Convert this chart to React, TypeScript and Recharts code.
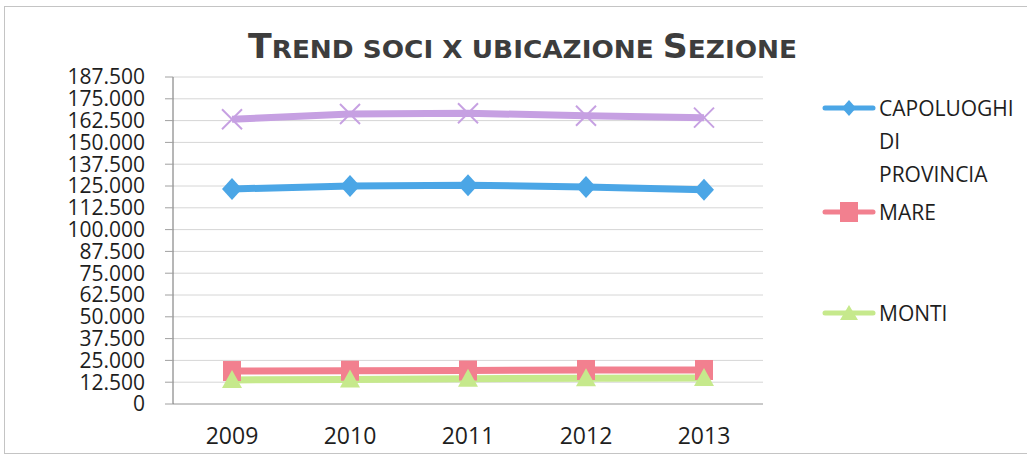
import React from 'react';
import { LineChart, Line, XAxis, YAxis, CartesianGrid } from 'recharts';

const years = ['2009', '2010', '2011', '2012', '2013'];
const capoluoghi = [123300, 125000, 125500, 124400, 122800];
const mare = [18900, 19100, 19200, 19500, 19500];
const monti = [13800, 14100, 14500, 14700, 14900];
const totale = [163300, 166300, 166700, 165300, 164200];
const yTicks = [0, 12500, 25000, 37500, 50000, 62500, 75000, 87500, 100000, 112500, 125000, 137500, 150000, 162500, 175000, 187500];
const boundaryTicks = [0, 1, 2, 3, 4, 5];

const COL_BLUE = '#4ba6e6';
const COL_PINK = '#f2808f';
const COL_GREEN = '#c6e98c';
const COL_PURPLE = '#c6a0e2';

const data = years.map((y, i) => ({
  year: y,
  capoluoghi: capoluoghi[i],
  mare: mare[i],
  monti: monti[i],
  totale: totale[i],
}));

const fmt = (v: number) => String(v).replace(/\B(?=(\d{3})+(?!\d))/g, '.');

const FONT = '"Open Sans", "Liberation Sans", sans-serif';

const Diamond = (p: any) => {
  const { cx, cy } = p;
  if (cx == null || cy == null) return null;
  return <polygon key={p.key} points={`${cx},${cy - 11} ${cx + 10},${cy} ${cx},${cy + 11} ${cx - 10},${cy}`} fill={COL_BLUE} />;
};
const Square = (p: any) => {
  const { cx, cy } = p;
  if (cx == null || cy == null) return null;
  return <rect key={p.key} x={cx - 9} y={cy - 10} width={18} height={20} fill={COL_PINK} />;
};
const Triangle = (p: any) => {
  const { cx, cy } = p;
  if (cx == null || cy == null) return null;
  return <polygon key={p.key} points={`${cx},${cy - 10} ${cx + 10},${cy + 8} ${cx - 10},${cy + 8}`} fill={COL_GREEN} />;
};
const Cross = (p: any) => {
  const { cx, cy } = p;
  if (cx == null || cy == null) return null;
  return (
    <g key={p.key}>
      <line x1={cx - 10} y1={cy - 10} x2={cx + 10} y2={cy + 10} stroke={COL_PURPLE} strokeWidth={2} />
      <line x1={cx - 10} y1={cy + 10} x2={cx + 10} y2={cy - 10} stroke={COL_PURPLE} strokeWidth={2} />
    </g>
  );
};

const legendItems = [
  { lines: ['CAPOLUOGHI', 'DI', 'PROVINCIA'], color: COL_BLUE, marker: 'diamond', top: 108 },
  { lines: ['MARE'], color: COL_PINK, marker: 'square', top: 212 },
  { lines: ['MONTI'], color: COL_GREEN, marker: 'triangle', top: 313 },
];

const LegendIcon = ({ color, marker }: { color: string; marker: string }) => {
  const cx = 27, cy = 11;
  let m: React.ReactNode = null;
  if (marker === 'diamond') m = <polygon points={`${cx},${cy - 8} ${cx + 7},${cy} ${cx},${cy + 8} ${cx - 7},${cy}`} fill={color} />;
  if (marker === 'square') m = <rect x={cx - 9} y={cy - 10} width={18} height={20} fill={color} />;
  if (marker === 'triangle') m = <polygon points={`${cx},${cy - 8} ${cx + 9},${cy + 7} ${cx - 9},${cy + 7}`} fill={color} />;
  return (
    <svg width={54} height={22} style={{ position: 'absolute', left: 0, top: -11 }}>
      <line x1={3} y1={cy} x2={51} y2={cy} stroke={color} strokeWidth={5} strokeLinecap="round" />
      {m}
    </svg>
  );
};

export default function App() {
  return (
    <div style={{ position: 'absolute', left: 0, top: 0, width: 1027, height: 456, background: '#fff', overflow: 'hidden' }}>
      <div style={{ position: 'absolute', left: 4, top: 6, width: 1040, height: 446, border: '1px solid #c4c4c4' }} />
      <svg width={1027} height={80} style={{ position: 'absolute', left: 0, top: 0 }}>
        <text x={248} y={58} textLength={549} lengthAdjust="spacingAndGlyphs" fill="#3d3d3d"
          style={{ fontFamily: '"DejaVu Sans", Verdana, sans-serif', fontWeight: 'bold' }}>
          <tspan fontSize={33}>T</tspan>
          <tspan fontSize={25}>REND SOCI X UBICAZIONE </tspan>
          <tspan fontSize={33}>S</tspan>
          <tspan fontSize={25}>EZIONE</tspan>
        </text>
      </svg>
      <div style={{ position: 'absolute', left: 0, top: 0 }}>
        <LineChart width={1027} height={456} data={data} margin={{ top: 77, right: 264, bottom: 0, left: 0 }}>
          <CartesianGrid xAxisId="main" vertical={false} stroke="#d6d6d6" />
          <XAxis xAxisId="b" type="number" domain={[0, 5]} ticks={boundaryTicks} height={0}
            tickFormatter={() => ''} tickSize={6} axisLine={false} tickLine={{ stroke: '#7a7a7a' }} allowDataOverflow />
          <XAxis xAxisId="main" dataKey="year" scale="band" height={52} tickLine={false} axisLine={{ stroke: '#a8a8a8' }}
            tickSize={0} tickMargin={24} interval={0}
            tick={{ fill: '#1e1e1e', fontSize: 23, fontFamily: FONT }} />
          <YAxis domain={[0, 187500]} ticks={yTicks} width={173} tickSize={8} tickMargin={20} interval={0}
            tickFormatter={fmt} axisLine={{ stroke: '#6e6e6e' }} tickLine={{ stroke: '#a0a0a0' }}
            tick={{ fill: '#1e1e1e', fontSize: 21, fontFamily: FONT }} />
          <Line xAxisId="main" dataKey="capoluoghi" name="CAPOLUOGHI DI PROVINCIA" stroke={COL_BLUE} strokeWidth={7}
            dot={Diamond} activeDot={false} isAnimationActive={false} />
          <Line xAxisId="main" dataKey="mare" name="MARE" stroke={COL_PINK} strokeWidth={7}
            dot={Square} activeDot={false} isAnimationActive={false} />
          <Line xAxisId="main" dataKey="monti" name="MONTI" stroke={COL_GREEN} strokeWidth={7}
            dot={Triangle} activeDot={false} isAnimationActive={false} />
          <Line xAxisId="main" dataKey="totale" name="TOTALE" stroke={COL_PURPLE} strokeWidth={7}
            dot={Cross} activeDot={false} isAnimationActive={false} />
        </LineChart>
      </div>
      {legendItems.map((it) => (
        <div key={it.lines[0]} style={{ position: 'absolute', left: 822, top: it.top }}>
          <LegendIcon color={it.color} marker={it.marker} />
          <div style={{ position: 'absolute', left: 57, top: -16.5, whiteSpace: 'nowrap', lineHeight: '33px', fontSize: 21,
            fontFamily: FONT, color: '#1e1e1e' }}>
            {it.lines.map((l, i) => (
              <React.Fragment key={i}>{i > 0 && <br />}{l}</React.Fragment>
            ))}
          </div>
        </div>
      ))}
    </div>
  );
}
